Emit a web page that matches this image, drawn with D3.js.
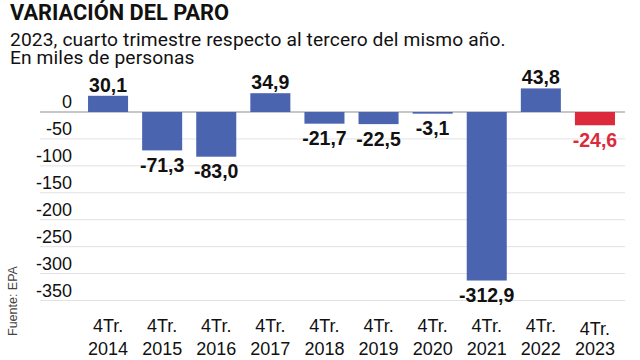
<!DOCTYPE html>
<html><head><meta charset="utf-8">
<script src="https://cdn.jsdelivr.net/npm/d3@7"></script>
<style>body{margin:0;background:#fff;}svg{display:block;}</style>
</head><body>
<svg id="c" width="640" height="360"></svg>
<script>
const categories = ["2014","2015","2016","2017","2018","2019","2020","2021","2022","2023"];
const values = [30.1,-71.3,-83.0,34.9,-21.7,-22.5,-3.1,-312.9,43.8,-24.6];
const tickValues = [0,-50,-100,-150,-200,-250,-300,-350];
const title = "VARIACIÓN DEL PARO";
const subtitle = ["2023, cuarto trimestre respecto al tercero del mismo año.","En miles de personas"];
const source = "Fuente: EPA";

const svg = d3.select("#c");
const blue = "#4a64b0", red = "#dc2a3c";
const x = d3.scaleBand().domain(categories).range([81,622]).paddingInner(0.26).paddingOuter(0.13);
const y = d3.scaleLinear().domain([-350,0]).range([300.5,112]);
const fmt = v => d3.format(".1f")(v).replace(".",",").replace("−","-");

svg.append("text").attr("x",10).attr("y",20).attr("font-family","Roboto").attr("font-weight",700)
  .attr("font-size",21.8).attr("fill","#111").text(title);
subtitle.forEach((s,i)=>svg.append("text").attr("x",10).attr("y",45.5+i*18).attr("font-family","Roboto")
  .attr("font-size",19.2).attr("letter-spacing",0.12).attr("fill","#111").text(s));

// grid
const g = svg.append("g");
g.selectAll("line.grid").data(tickValues).join("line")
  .attr("x1",40).attr("x2",625).attr("y1",d=>y(d)).attr("y2",d=>y(d))
  .attr("stroke",d=>d===0?"#b5b5b5":"#e2e2e2").attr("stroke-width",d=>d===0?1.5:1);
g.selectAll("text.tick").data(tickValues).join("text")
  .attr("x",72).attr("y",d=>y(d)-4).attr("text-anchor","end")
  .attr("font-family","Liberation Sans").attr("font-size",18).attr("fill","#111")
  .text(d=>d3.format("d")(d).replace("−","-"));

const data = categories.map((c,i)=>({c,v:values[i],last:i===categories.length-1}));
svg.selectAll("rect.bar").data(data).join("rect")
  .attr("x",d=>x(d.c)).attr("width",x.bandwidth())
  .attr("y",d=>y(Math.max(0,d.v))).attr("height",d=>Math.abs(y(d.v)-y(0)))
  .attr("fill",d=>d.last?red:blue);
svg.selectAll("text.val").data(data).join("text")
  .attr("x",d=>x(d.c)+x.bandwidth()/2)
  .attr("y",d=>d.v>=0?y(d.v)-4:y(d.v)+21.5)
  .attr("text-anchor","middle").attr("font-family","Liberation Sans").attr("font-weight",700)
  .attr("font-size",19.5).attr("fill",d=>d.last?red:"#111").text(d=>fmt(d.v));

const lab = svg.selectAll("g.lab").data(data).join("g");
lab.append("text").attr("x",d=>x(d.c)+x.bandwidth()/2).attr("y",d=>d.last?335:332)
  .attr("text-anchor","middle").attr("font-family","Liberation Sans").attr("font-size",18).attr("fill","#111").text("4Tr.");
lab.append("text").attr("x",d=>x(d.c)+x.bandwidth()/2).attr("y",355)
  .attr("text-anchor","middle").attr("font-family","Liberation Sans").attr("font-size",18).attr("fill","#111").text(d=>d.c);

svg.append("text").attr("transform","translate(17,336) rotate(-90)").attr("font-family","Liberation Sans")
  .attr("font-size",12.5).attr("fill","#444").text(source);
</script>
</body></html>
